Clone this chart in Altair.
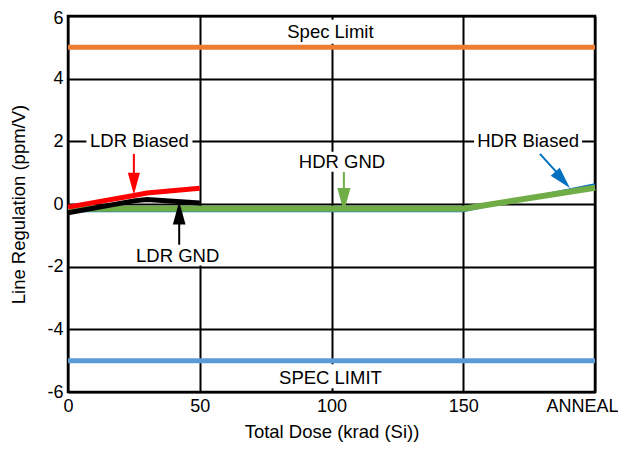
import altair as alt
import pandas as pd

# ---- data ----
dose_ldr = [0, 25, 30, 50]
ldr_biased = [-0.1, 0.27, 0.35, 0.5]
ldr_gnd = [-0.28, 0.1, 0.14, 0.03]

dose_hdr = [0, 50, 100, 150, 200]
hdr_biased = [-0.22, -0.22, -0.22, -0.22, 0.62]
hdr_gnd = [-0.15, -0.15, -0.15, -0.15, 0.52]

spec_upper = 5
spec_lower = -5

x_ticks = [0, 50, 100, 150, 200]
y_ticks = [-6, -4, -2, 0, 2, 4, 6]

# annotation labels
ann_text = ["Spec Limit", "SPEC LIMIT", "LDR Biased", "HDR Biased", "HDR GND", "LDR GND"]
ann_x = [99.6, 99.6, 27.1, 174.6, 104.0, 41.6]
ann_y = [5.5, -5.55, 2.0, 2.0, 1.35, -1.66]

# white label backgrounds (centre in data units, size in px)
box_x = [99.6, 99.6, 27.1, 174.6, 104.0, 41.6]
box_y = [5.5, -5.5, 2.0, 2.0, 1.35, -1.1]
box_w = [96, 108, 106, 108, 94, 92]
box_h = [24, 24, 22, 22, 20, 54]

# arrows: shaft start/end, head position, colour
arr_x1 = [25.0, 42.2, 104.7, 179.1]
arr_y1 = [1.6, -1.3, 1.02, 1.6]
arr_x2 = [25.0, 42.2, 104.7, 186.0]
arr_y2 = [0.75, -0.4, 0.3, 0.96]
arr_hx = [25.0, 42.2, 104.7, 187.7]
arr_hy = [0.65, -0.29, 0.13, 0.77]
arr_angle = [0, 180, 0, 318]
arr_size = [484, 529, 576, 484]
arr_color = ["#FF0000", "#000000", "#70AD47", "#0070C0"]

FONT = "Liberation Sans"

rows = []
for d, v in zip(dose_ldr, ldr_biased):
    rows.append({"dose": d, "val": v, "series": "LDR Biased"})
for d, v in zip(dose_ldr, ldr_gnd):
    rows.append({"dose": d, "val": v, "series": "LDR GND"})
for d, v in zip(dose_hdr, hdr_biased):
    rows.append({"dose": d, "val": v, "series": "HDR Biased"})
for d, v in zip(dose_hdr, hdr_gnd):
    rows.append({"dose": d, "val": v, "series": "HDR GND"})
df = pd.DataFrame(rows)

xscale = alt.Scale(domain=[0, 200], nice=False)
yscale = alt.Scale(domain=[-6, 6], nice=False)

xaxis = alt.Axis(
    values=x_ticks,
    labelExpr="datum.value == 200 ? 'ANNEAL' : toString(datum.value)",
    title="Total Dose (krad (Si))",
    grid=True, ticks=False, domain=False,
    labelPadding=5, titleY=45, titleBaseline="alphabetic",
    labelFlush=False,
    labelOffset={"condition": {"test": "datum.value == 200", "value": -13}, "value": 0},
    titleFontSize=18.5,
)
yaxis = alt.Axis(
    values=y_ticks,
    labelExpr="toString(datum.value)",
    title="Line Regulation (ppm/V)",
    grid=True, ticks=False, domain=False,
    labelPadding=5, titleX=-50, titleY=188, titleBaseline="middle",
    titleAlign="center", titleAngle=270, titleFontSize=18.5,
    labelFlush=False,
    labelOffset={"condition": {"test": "datum.value == 6", "value": 2}, "value": 0},
)

X = lambda f="dose": alt.X(f"{f}:Q", scale=xscale, axis=xaxis)
Y = lambda f="val": alt.Y(f"{f}:Q", scale=yscale, axis=yaxis)

ann = pd.DataFrame({"text": ann_text, "x": ann_x, "y": ann_y})

boxes = []
for x, y, w, h in zip(box_x, box_y, box_w, box_h):
    boxes.append(
        alt.Chart(pd.DataFrame({"x": [x], "y": [y]}))
        .mark_rect(fill="white", width=w, height=h)
        .encode(x=X("x"), y=Y("y"))
    )

spec = pd.DataFrame({"val": [spec_upper, spec_lower], "c": ["#ED7D31", "#5B9BD5"]})
spec_lines = alt.Chart(spec).mark_rule(strokeWidth=5).encode(
    y=Y("val"), color=alt.Color("c:N", scale=None)
)

def line(series, color, width):
    return (
        alt.Chart(df[df.series == series])
        .mark_line(color=color, strokeWidth=width)
        .encode(x=X(), y=Y(), order="dose:Q")
    )

lines = [
    line("HDR Biased", "#0070C0", 2.5),
    line("HDR GND", "#70AD47", 6),
    line("LDR GND", "#000000", 5),
    line("LDR Biased", "#FF0000", 5),
]

arr = pd.DataFrame({
    "x1": arr_x1, "y1": arr_y1, "x2": arr_x2, "y2": arr_y2,
    "hx": arr_hx, "hy": arr_hy, "ang": arr_angle, "s": arr_size, "c": arr_color,
})
shafts = alt.Chart(arr).mark_rule(strokeWidth=2).encode(
    x=X("x1"), y=Y("y1"), x2="x2:Q", y2="y2:Q", color=alt.Color("c:N", scale=None)
)
heads = alt.Chart(arr).mark_point(
    shape="M-0.55,-1L0.55,-1L0,1Z", filled=True, opacity=1, strokeWidth=0
).encode(
    x=X("hx"), y=Y("hy"), angle=alt.Angle("ang:Q", scale=None),
    size=alt.Size("s:Q", scale=None),
    color=alt.Color("c:N", scale=None),
)

texts = alt.Chart(ann).mark_text(font=FONT, fontSize=18.5, color="black", baseline="middle").encode(
    x=X("x"), y=Y("y"), text="text:N"
)

chart = (
    alt.layer(*boxes, spec_lines, *lines, shafts, heads, texts)
    .properties(
        width=527, height=376,
        autosize=alt.AutoSizeParams(type="none"),
        padding={"left": 60, "top": 8, "right": 23, "bottom": 50},
    )
    .configure_view(stroke="black", strokeWidth=2.5)
    .configure_axis(
        labelFont=FONT, titleFont=FONT, labelFontSize=18, titleFontSize=18.5,
        labelColor="black", titleColor="black", titleFontWeight="normal",
        gridColor="black", gridWidth=2, gridOpacity=1,
    )
)

chart.save("out.html", embed_options={"renderer": "svg", "actions": False})
